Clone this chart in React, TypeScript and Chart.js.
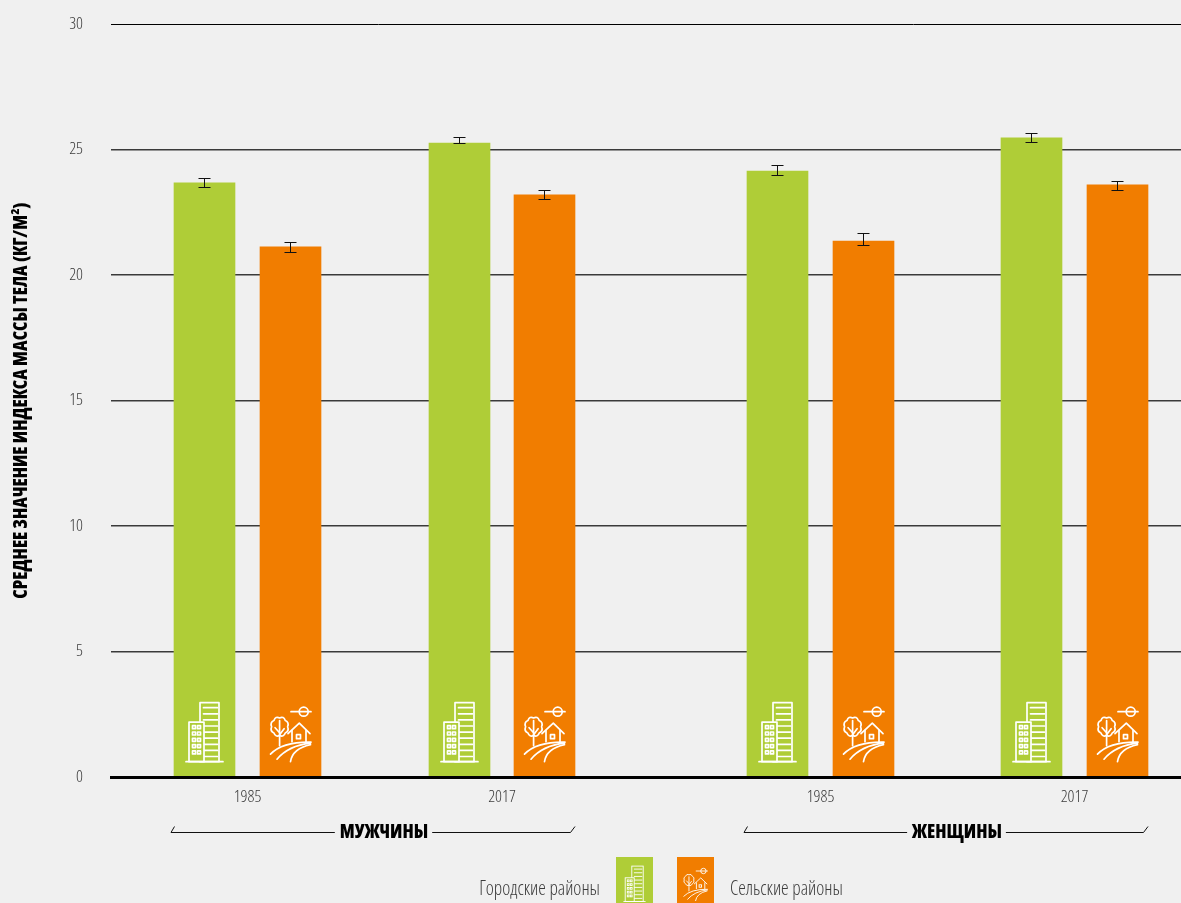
import React, { useEffect, useRef } from "react";
import { Chart, registerables } from "chart.js";

Chart.register(...registerables);

const yTicks = [0, 5, 10, 15, 20, 25, 30];
const barOffsets = [0, 86, 255, 340, 573, 659, 827, 913];
const yearLabels = ["1985", "2017", "1985", "2017"];
const urbanValues = [23.67, 25.26, 24.14, 25.46];
const ruralValues = [21.12, 23.19, 21.35, 23.59];
const urbanLow = [23.45, 25.21, 23.96, 25.27];
const urbanHigh = [23.88, 25.51, 24.37, 25.66];
const ruralLow = [20.89, 22.98, 21.16, 23.35];
const ruralHigh = [21.3, 23.4, 21.66, 23.76];
const groupLabels = ["МУЖЧИНЫ", "ЖЕНЩИНЫ"];
const urbanName = "Городские районы";
const ruralName = "Сельские районы";
const yTitle = "СРЕДНЕЕ ЗНАЧЕНИЕ ИНДЕКСА МАССЫ ТЕЛА (КГ/М²)";

const GREEN = "#afcd37";
const ORANGE = "#f17d00";
const BG = "#f0f0f0";
const FONT = '"Open Sans", sans-serif';
const TEXT = "#3c3c3c";

// Every font set on the chart's context is used in its condensed width
function condenseContext(ctx: any) {
  const desc = Object.getOwnPropertyDescriptor(CanvasRenderingContext2D.prototype, "font")!;
  Object.defineProperty(ctx, "font", {
    configurable: true,
    get() {
      return desc.get!.call(ctx);
    },
    set(v: string) {
      desc.set!.call(ctx, v);
      ctx.fontStretch = "extra-condensed";
    },
  });
}

function line(ctx: CanvasRenderingContext2D, pts: number[]) {
  ctx.beginPath();
  ctx.moveTo(pts[0], pts[1]);
  for (let i = 2; i < pts.length; i += 2) ctx.lineTo(pts[i], pts[i + 1]);
  ctx.stroke();
}

// Icons are drawn around (0,0) = centre of the ground line
function buildingIcon(ctx: CanvasRenderingContext2D) {
  ctx.strokeRect(-4.5, -59, 19, 59);
  for (let i = 0; i < 9; i++) line(ctx, [-1, -54 + i * 6.1, 13, -54 + i * 6.1]);
  ctx.save();
  ctx.fillStyle = GREEN;
  ctx.fillRect(-15.5, -39.5, 15, 39);
  ctx.restore();
  ctx.strokeRect(-15.5, -39.5, 15, 39.5);
  for (let r = 0; r < 5; r++) {
    for (let c = 0; c < 2; c++) {
      ctx.strokeRect(-12 + c * 5, -36 + r * 6.3, 3, 3);
    }
  }
  line(ctx, [-18.5, 0, 18.5, 0]);
}

function ruralIcon(ctx: CanvasRenderingContext2D) {
  // sun
  ctx.beginPath();
  ctx.arc(13.2, -50, 4.5, 0, Math.PI * 2);
  ctx.stroke();
  line(ctx, [0.5, -50, 20.5, -50]);
  // tree crown (scalloped)
  const cx = -10.9;
  const cy = -35;
  const bumps = 8;
  ctx.beginPath();
  for (let i = 0; i <= bumps; i++) {
    const a = (i / bumps) * Math.PI * 2;
    const b = ((i - 0.5) / bumps) * Math.PI * 2;
    const px = cx + 8 * Math.cos(a);
    const py = cy + 8.8 * Math.sin(a);
    if (i === 0) ctx.moveTo(px, py);
    else ctx.quadraticCurveTo(cx + 10.6 * Math.cos(b), cy + 11.6 * Math.sin(b), px, py);
  }
  ctx.stroke();
  line(ctx, [cx, -41, cx, -16]);
  line(ctx, [cx, -29, cx - 4.5, -34]);
  line(ctx, [cx, -27, cx + 4.5, -33]);
  // house
  line(ctx, [-2.5, -28, 8.8, -38.5, 19.5, -28]);
  line(ctx, [1.5, -31, 1.5, -20]);
  line(ctx, [15.5, -31, 15.5, -20]);
  ctx.strokeRect(6, -27, 4, 4);
  // fields
  const curve = (x0: number, y0: number, qx: number, qy: number, x1: number, y1: number) => {
    ctx.beginPath();
    ctx.moveTo(x0, y0);
    ctx.quadraticCurveTo(qx, qy, x1, y1);
    ctx.stroke();
  };
  curve(-20, -7.5, -8, -20, 20.5, -19.5);
  curve(-13.5, -2.5, -2, -16, 20, -18.5);
  curve(0, 0, 2, -13, 20, -17);
}

const decorations = {
  id: "decorations",
  afterDatasetsDraw(chart: any) {
    const ctx: CanvasRenderingContext2D = chart.ctx;
    const x = chart.scales.x;
    const y = chart.scales.y;
    const y0 = y.getPixelForValue(0);

    // error bars
    ctx.save();
    ctx.strokeStyle = "#111";
    ctx.lineWidth = 1;
    [
      [urbanLow, urbanHigh],
      [ruralLow, ruralHigh],
    ].forEach(([lows, highs], di) => {
      chart.getDatasetMeta(di).data.forEach((el: any, i: number) => {
        const hi = Math.round(y.getPixelForValue(highs[i])) + 0.5;
        const lo = Math.round(y.getPixelForValue(lows[i])) - 0.5;
        const cx = Math.floor(el.x) + 0.5;
        line(ctx, [cx, hi, cx, lo]);
        line(ctx, [cx - 6, hi, cx + 6, hi]);
        line(ctx, [cx - 6, lo, cx + 6, lo]);
      });
    });
    ctx.restore();

    // icons in bars
    const groundY = y0 - 15.3;
    ctx.save();
    ctx.strokeStyle = "#fff";
    ctx.lineWidth = 1.7;
    ctx.lineCap = "round";
    ctx.lineJoin = "round";
    chart.getDatasetMeta(0).data.forEach((el: any) => {
      ctx.save();
      ctx.translate(el.x, groundY);
      buildingIcon(ctx);
      ctx.restore();
    });
    chart.getDatasetMeta(1).data.forEach((el: any) => {
      ctx.save();
      ctx.translate(el.x, groundY);
      ruralIcon(ctx);
      ctx.restore();
    });
    ctx.restore();

    // group brackets
    const bracketY = y0 + 55.5;
    groupLabels.forEach((label, g) => {
      const left = x.getPixelForValue(barOffsets[g * 4]) - 34.5;
      const right = x.getPixelForValue(barOffsets[g * 4 + 3]) + 30.5;
      const mid = (left + right) / 2 + 11.5;
      ctx.save();
      ctx.font = `800 18.5px ${FONT}`;
      ctx.fillStyle = "#000";
      ctx.textAlign = "center";
      ctx.textBaseline = "middle";
      ctx.fillText(label, mid, bracketY);
      const w = ctx.measureText(label).width;
      ctx.strokeStyle = "#111";
      ctx.lineWidth = 1;
      line(ctx, [left + 4.5, bracketY - 6, left + 1, bracketY, mid - w / 2 - 5, bracketY]);
      line(ctx, [mid + w / 2 + 4, bracketY, right - 4.5, bracketY, right, bracketY - 6]);
      ctx.restore();
    });

    // legend
    const legendTop = y0 + 80;
    const legendMidY = legendTop + 33;
    ctx.save();
    ctx.fillStyle = GREEN;
    ctx.fillRect(616, legendTop, 37, 46);
    ctx.fillStyle = ORANGE;
    ctx.fillRect(677, legendTop, 37, 46);
    ctx.strokeStyle = "#fff";
    ctx.lineWidth = 1.5;
    ctx.save();
    ctx.translate(634.5, legendTop + 44.5);
    ctx.scale(0.6, 0.6);
    buildingIcon(ctx);
    ctx.restore();
    ctx.save();
    ctx.translate(695.5, legendTop + 44);
    ctx.scale(0.6, 0.6);
    ruralIcon(ctx);
    ctx.restore();
    ctx.font = `300 19.2px ${FONT}`;
    ctx.fillStyle = TEXT;
    ctx.textBaseline = "middle";
    ctx.textAlign = "right";
    ctx.fillText(urbanName, 600, legendMidY);
    ctx.textAlign = "left";
    ctx.fillText(ruralName, 730, legendMidY);
    ctx.restore();
  },
};

export default function App() {
  const ref = useRef<HTMLCanvasElement>(null);

  useEffect(() => {
    document.body.style.margin = "0";
    document.body.style.background = BG;
    condenseContext(ref.current!.getContext("2d"));
    const tickOffsets = yearLabels.map((_, i) => (barOffsets[i * 2] + barOffsets[i * 2 + 1]) / 2);
    const chart = new Chart(ref.current!, {
      type: "bar",
      data: {
        datasets: [
          {
            label: urbanName,
            data: urbanValues.map((v, i) => ({ x: barOffsets[i * 2], y: v })),
            backgroundColor: GREEN,
            barThickness: 61,
            grouped: false,
          },
          {
            label: ruralName,
            data: ruralValues.map((v, i) => ({ x: barOffsets[i * 2 + 1], y: v })),
            backgroundColor: ORANGE,
            barThickness: 61,
            grouped: false,
          },
        ],
      } as any,
      options: {
        animation: false,
        responsive: false,
        layout: { autoPadding: false, padding: { top: 24, right: 0, left: 0, bottom: 0 } },
        plugins: { legend: { display: false }, tooltip: { enabled: false }, title: { display: false } },
        scales: {
          x: {
            type: "linear",
            offset: false,
            min: -93.5,
            max: 976.5,
            grid: { display: false, drawTicks: false },
            border: { display: true, color: "#000", width: 3, z: 1 },
            afterBuildTicks: (s: any) => {
              s.ticks = tickOffsets.map((v) => ({ value: v }));
            },
            afterFit: (s: any) => {
              s.height = 126;
            },
            ticks: {
              autoSkip: false,
              maxRotation: 0,
              padding: 10,
              color: TEXT,
              font: { family: FONT, size: 17, weight: "300" },
              callback: (v: any) => {
                const i = tickOffsets.indexOf(Number(v));
                return i >= 0 ? yearLabels[i] : "";
              },
            },
          },
          y: {
            min: 0,
            max: 30,
            afterBuildTicks: (s: any) => {
              s.ticks = yTicks.map((v) => ({ value: v }));
            },
            afterFit: (s: any) => {
              s.width = 111;
              s.paddingTop = 0;
              s.paddingBottom = 0;
            },
            grid: {
              color: (c: any) => (c.tick && c.tick.value === 30 ? "#000" : "#3a3a3a"),
              lineWidth: (c: any) => (c.tick && c.tick.value === 30 ? 1 : 1.5),
              drawTicks: false,
            },
            border: { display: false },
            ticks: {
              padding: 28,
              color: TEXT,
              font: { family: FONT, size: 17, weight: "300" },
            },
            title: {
              display: true,
              text: yTitle,
              color: "#000",
              font: { family: FONT, size: 18.5, weight: "800" },
              padding: { top: 11, bottom: 0 },
            },
          },
        },
      } as any,
      plugins: [decorations as any],
    });
    return () => chart.destroy();
  }, []);

  return (
    <div style={{ position: "absolute", left: 0, top: 0, width: 1181, height: 903, overflow: "hidden", background: BG }}>
      <canvas ref={ref} width={1181} height={903} style={{ display: "block", width: 1181, height: 903 }} />
    </div>
  );
}
